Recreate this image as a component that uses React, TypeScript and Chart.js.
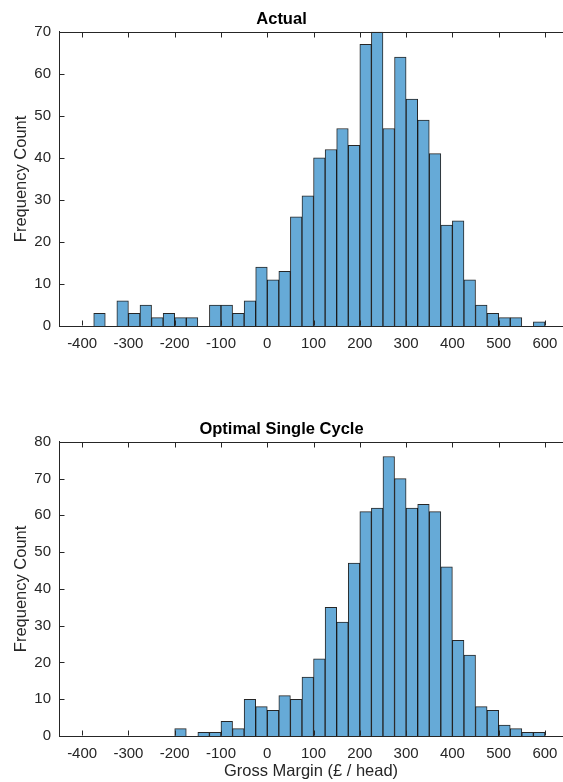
import React, { useEffect, useRef } from "react";
import { Chart, registerables } from "chart.js";

Chart.register(...registerables);

// Left edges of the 25-wide histogram bins
const BIN_STARTS = [
  -375, -350, -325, -300, -275, -250, -225, -200, -175, -150, -125, -100, -75,
  -50, -25, 0, 25, 50, 75, 100, 125, 150, 175, 200, 225, 250, 275, 300, 325,
  350, 375, 400, 425, 450, 475, 500, 525, 550, 575,
];
const BIN_WIDTH = 25;

const ACTUAL_COUNTS = [
  3, 0, 6, 3, 5, 2, 3, 2, 2, 0, 5, 5, 3, 6, 14, 11, 13, 26, 31, 40, 42, 47, 43,
  67, 70, 47, 64, 54, 49, 41, 24, 25, 11, 5, 3, 2, 2, 0, 1,
];
const OPTIMAL_COUNTS = [
  0, 0, 0, 0, 0, 0, 0, 2, 0, 1, 1, 4, 2, 10, 8, 7, 11, 10, 16, 21, 35, 31, 47,
  61, 62, 76, 70, 62, 63, 61, 46, 26, 22, 8, 7, 3, 2, 1, 1,
];

const X_TICKS = [-400, -300, -200, -100, 0, 100, 200, 300, 400, 500, 600];
const X_MIN = -450;
const X_MAX = 639;

const FONT = "'Liberation Sans', Arial, Helvetica, sans-serif";
const TEXT = "#262626";
const BAR_FILL = "rgb(102,170,215)";
const BAR_EDGE = "rgba(0,0,0,0.85)";

const axisTicks = {
  id: "axisTicks",
  afterDraw(chart: any) {
    const { ctx, chartArea: a, scales } = chart;
    const x = scales.x;
    const y = scales.y;
    ctx.save();
    ctx.strokeStyle = TEXT;
    ctx.lineWidth = 1;
    ctx.beginPath();
    const top = Math.round(a.top) + 0.5;
    const bottom = Math.round(a.bottom) - 0.5;
    const left = Math.round(a.left) + 0.5;
    ctx.moveTo(a.left, top);
    ctx.lineTo(chart.width, top);
    x.ticks.forEach((t: any) => {
      const px = Math.round(x.getPixelForValue(t.value)) + 0.5;
      ctx.moveTo(px, bottom);
      ctx.lineTo(px, bottom - 5);
      ctx.moveTo(px, top);
      ctx.lineTo(px, top + 5);
    });
    y.ticks.forEach((t: any) => {
      const py = Math.round(y.getPixelForValue(t.value)) + 0.5;
      ctx.moveTo(left, py);
      ctx.lineTo(left + 5, py);
    });
    ctx.stroke();
    ctx.restore();
  },
};

function Histogram(props: {
  counts: number[];
  title: string;
  yMax: number;
  xLabel?: string;
  height: number;
  titleTop: number;
  axisHeight: number;
}) {
  const ref = useRef<HTMLCanvasElement>(null);
  useEffect(() => {
    if (!ref.current) return;
    const data = BIN_STARTS.map((s, i) => ({
      x: s + BIN_WIDTH / 2,
      y: props.counts[i] > 0 ? props.counts[i] : null,
    }));
    const chart = new Chart(ref.current, {
      type: "bar",
      data: {
        datasets: [
          {
            data: data as any,
            backgroundColor: BAR_FILL,
            borderColor: BAR_EDGE,
            borderWidth: 1,
            barPercentage: 1,
            categoryPercentage: 1,
          },
        ],
      },
      options: {
        responsive: false,
        animation: false,
        layout: { padding: 0 },
        plugins: {
          legend: { display: false },
          tooltip: { enabled: false },
          title: {
            display: true,
            text: props.title,
            color: "#000",
            font: { family: FONT, size: 16.5, weight: "bold" },
            padding: { top: props.titleTop, bottom: 2 },
          },
        },
        scales: {
          x: {
            type: "linear",
            offset: false,
            min: X_MIN,
            max: X_MAX,
            grid: { display: false, drawTicks: false, offset: false },
            border: { display: true, color: TEXT, width: 1 },
            ticks: {
              color: TEXT,
              font: { family: FONT, size: 15 },
              padding: 9,
              maxRotation: 0,
            },
            title: props.xLabel
              ? {
                  display: true,
                  text: props.xLabel,
                  color: TEXT,
                  font: { family: FONT, size: 16.5 },
                  padding: { top: 0, bottom: 1 },
                }
              : { display: false },
            afterBuildTicks: (scale: any) => {
              scale.ticks = X_TICKS.map((v) => ({ value: v }));
            },
            afterFit: (scale: any) => {
              scale.height = props.axisHeight;
              scale.paddingLeft = 0;
              scale.paddingRight = 0;
            },
          },
          y: {
            min: 0,
            max: props.yMax,
            grid: { display: false, drawTicks: false },
            border: { display: true, color: TEXT, width: 1 },
            ticks: {
              stepSize: 10,
              color: TEXT,
              font: { family: FONT, size: 15 },
              padding: 8,
            },
            title: {
              display: true,
              text: "Frequency Count",
              color: TEXT,
              font: { family: FONT, size: 16.5 },
              padding: { top: 12, bottom: 0 },
            },
            afterFit: (scale: any) => {
              scale.width = 59;
            },
          },
        },
      },
      plugins: [axisTicks],
    });
    return () => chart.destroy();
  }, []);
  return (
    <canvas
      ref={ref}
      width={563}
      height={props.height}
      style={{ display: "block", width: 563, height: props.height }}
    />
  );
}

export default function App() {
  return (
    <div
      style={{
        position: "absolute",
        left: 0,
        top: 0,
        width: 563,
        height: 782,
        background: "#fff",
        overflow: "hidden",
      }}
    >
      <Histogram
        counts={ACTUAL_COUNTS}
        title="Actual"
        yMax={70}
        height={390}
        titleTop={10}
        axisHeight={64}
      />
      <Histogram
        counts={OPTIMAL_COUNTS}
        title="Optimal Single Cycle"
        yMax={80}
        xLabel="Gross Margin (£ / head)"
        height={392}
        titleTop={30}
        axisHeight={46}
      />
    </div>
  );
}
